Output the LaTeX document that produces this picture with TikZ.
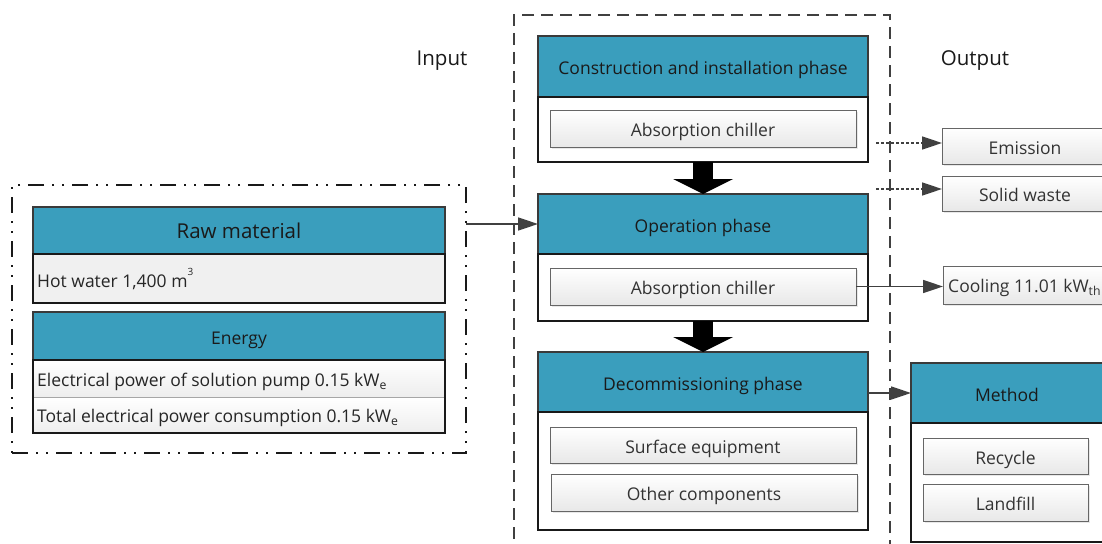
\documentclass[tikz,border=0pt]{standalone}
\usepackage{fontspec}
\setmainfont{Open Sans}
\usetikzlibrary{arrows.meta,shadows}
\definecolor{teal1}{HTML}{3A9EBD}
\definecolor{bord}{HTML}{3A3A3A}
\definecolor{txt}{HTML}{1A1A1A}
\definecolor{lgray}{HTML}{F0F0F0}
\newcommand\fsz[1]{\fontsize{#1}{#1}\selectfont}
\begin{document}
\begin{tikzpicture}[x=1pt,y=-1pt,
  rect/.style={anchor=north west, inner sep=0pt, outer sep=0pt},
  lowtxt/.style={text height=18pt, text depth=2pt},
  hdr/.style={rect, lowtxt, draw=bord, fill=teal1, line width=1.6pt, text=txt, font=\fsz{17.5}},
  bodyb/.style={rect, draw=black!90, fill=white, line width=1.6pt},
  itembox/.style={rect, lowtxt, draw=black!60, line width=0.9pt, top color=white, bottom color=black!9, text=black!80, font=\fsz{17.5},
     drop shadow={opacity=0.18, shadow xshift=2pt, shadow yshift=-2pt}},
  rowbox/.style={rect, draw=black!35, line width=0.8pt, top color=white, bottom color=black!7},
  thinarrow/.style={draw=black!75, line width=1.5pt, -{Triangle[length=20pt,width=13pt]}},
  dotarrow/.style={thinarrow, dash pattern=on 3pt off 2pt},
  bigarrow/.style={draw=black, line width=20pt, -{Triangle[length=15pt,width=60pt,line width=0pt]}},
  lbl/.style={font=\fsz{20.5}, text=black!90},
  lefttxt/.style={anchor=west, font=\fsz{17.5}, text=black!85, inner sep=0pt}
]
\useasboundingbox (0,0) rectangle (1102,543);
\clip (0,0) rectangle (1102,543);
\fill[white] (0,0) rectangle (1102,543);

% labels
\node[lbl] (inlbl) at (442,61) {Input};
\node[lbl] (outlbl) at (975,61) {Output};

% middle dashed frame
\node[rect, draw=black!75, line width=1.5pt, dash pattern=on 12pt off 7pt, minimum width=376pt, minimum height=560pt] (lcframe) at (514,15) {};

% left dash-dot frame
\node[rect, draw=black!90, line width=1.6pt, dash pattern=on 16pt off 8pt on 2pt off 8pt on 2pt off 8pt,
      minimum width=454pt, minimum height=268pt] (inframe) at (12,185) {};

% raw material
\node[hdr, font=\fsz{20.5}, minimum width=412pt, minimum height=47pt] (rawh) at (33,207) {Raw material};
\node[bodyb, draw=black!90, fill=lgray, minimum width=412pt, minimum height=49pt] (rawb) at (33,254) {};
\node[lefttxt] (hw) at (37,279) {Hot water 1,400 m\raisebox{1.3ex}{\fsz{10}3}};

% energy
\node[hdr, minimum width=412pt, minimum height=48pt] (enh) at (33,312) {Energy};
\node[rowbox, minimum width=412pt, minimum height=37pt] (enr1) at (33,360) {};
\node[rowbox, minimum width=412pt, minimum height=36pt] (enr2) at (33,397) {};
\node[rect, draw=black!90, line width=1.6pt, minimum width=412pt, minimum height=73pt] (enb) at (33,360) {};
\node[lefttxt] (ep) at (37,382) {Electrical power of solution pump 0.15 kW\textsubscript{e}};
\node[lefttxt] (te) at (37,418) {Total electrical power consumption 0.15 kW\textsubscript{e}};

% construction phase
\node[hdr, minimum width=330pt, minimum height=61pt] (c1h) at (538,36) {Construction and installation phase};
\node[bodyb, minimum width=330pt, minimum height=65pt] (c1b) at (538,97) {};
\node[itembox, minimum width=306pt, minimum height=37pt] (c1i) at (550,110) {Absorption chiller};

% operation phase
\node[hdr, minimum width=330pt, minimum height=60pt] (c2h) at (538,194) {Operation phase};
\node[bodyb, minimum width=330pt, minimum height=67pt] (c2b) at (538,254) {};
\node[itembox, minimum width=306pt, minimum height=37pt] (c2i) at (550,268) {Absorption chiller};

% decommissioning
\node[hdr, minimum width=330pt, minimum height=60pt] (c3h) at (538,352) {Decommissioning phase};
\node[bodyb, minimum width=330pt, minimum height=118pt] (c3b) at (538,412) {};
\node[itembox, minimum width=306pt, minimum height=36pt] (c3i1) at (550,427) {Surface equipment};
\node[itembox, minimum width=306pt, minimum height=37pt] (c3i2) at (551,474) {Other components};

% outputs
\node[itembox, minimum width=166pt, minimum height=36pt] (emi) at (942,128) {Emission};
\node[itembox, minimum width=166pt, minimum height=35pt] (sw) at (942,176) {Solid waste};
\node[itembox, minimum width=166pt, minimum height=38pt] (cool) at (943,266) {};
\node[lefttxt, text=black!80] (cooltxt) at (948,288) {Cooling 11.01 kW\textsubscript{th}};

% method
\node[hdr, minimum width=192pt, minimum height=60pt] (meh) at (911,363) {Method};
\node[bodyb, minimum width=192pt, minimum height=119pt] (meb) at (911,423) {};
\node[itembox, minimum width=165pt, minimum height=36pt] (rec) at (923,438) {Recycle};
\node[itembox, minimum width=165pt, minimum height=37pt] (lan) at (923,484) {Landfill};

% connectors
\draw[bigarrow] (c1b.south) -- (c2h.north);
\draw[bigarrow] (c2b.south) -- (c3h.north);
\draw[thinarrow] (inframe.east |- c2h.west) -- (c2h.west);
\coordinate (e0) at (876,143);
\coordinate (s0) at (876,189);
\draw[dotarrow] (e0) -- (e0 -| emi.west);
\draw[dotarrow] (s0) -- (s0 -| sw.west);
\draw[thinarrow] (c2i.east) -- (c2i.east -| cool.west);
\draw[thinarrow] (c3h.east |- meh.west) -- (meh.west);
\end{tikzpicture}
\end{document}
